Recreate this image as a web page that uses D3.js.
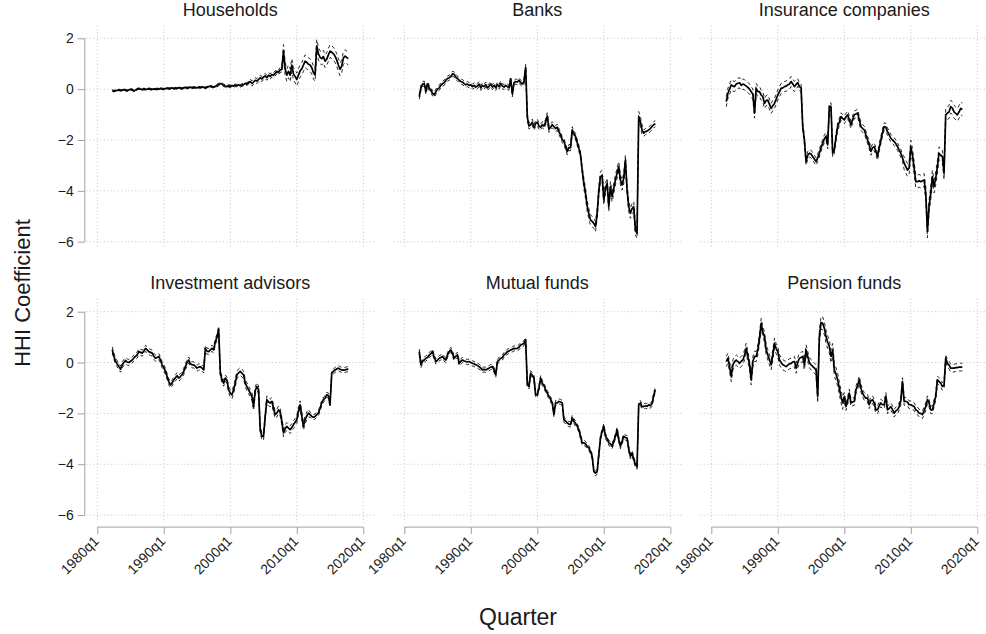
<!DOCTYPE html>
<html>
<head>
<meta charset="utf-8">
<script src="https://cdn.jsdelivr.net/npm/d3@7"></script>
<style>
  body { margin: 0; background: #fff; }
  text { font-family: "Liberation Sans", Arial, sans-serif; fill: #1a1a1a; }
</style>
</head>
<body>
<svg id="chart" width="986" height="634"></svg>
<script>
// quarterly estimates, 1982q2 .. 2017q4
var firstQuarter = 1982.25;
var panelNames = ["Households", "Banks", "Insurance companies", "Investment advisors", "Mutual funds", "Pension funds"];

var households = [
  -0.05, -0.08, -0.06,
  -0.05, -0.03, -0.05, -0.04,  -0.02, -0.04, -0.06, -0.03,  -0.01, -0.02, -0.08, -0.03,
  0.0, 0.02, 0.0, -0.02,  0.01, -0.01, 0.0, 0.02,  0.0, -0.01, 0.01, 0.0,
  0.01, 0.0, 0.03, 0.01,  0.0, 0.02, 0.04, 0.02,  0.03, 0.05, 0.02, 0.04,
  0.03, 0.06, 0.04, 0.02,  0.05, 0.07, 0.04, 0.06,  0.08, 0.05, 0.07, 0.06,
  0.05, 0.08, 0.06, 0.09,  0.07, 0.05, 0.08, 0.1,  0.12, 0.09, 0.08, 0.11,
  0.14, 0.18, 0.22, 0.2,  0.15, 0.12, 0.1, 0.13,  0.11, 0.14, 0.12, 0.15,
  0.14, 0.17, 0.13, 0.16,  0.18, 0.22, 0.2, 0.25,  0.3, 0.22, 0.28, 0.35,
  0.32, 0.38, 0.45, 0.4,  0.48, 0.52, 0.45, 0.55,  0.5, 0.58, 0.55, 0.62,
  0.7, 0.65, 0.75, 0.78,  1.5, 0.8, 0.55, 0.7,  0.55, 0.95, 0.6, 0.5,
  0.38, 0.55, 0.72, 0.8,  0.95, 1.1, 1.05, 0.98,  0.95, 0.85, 0.65, 0.56,
  1.7, 1.4, 1.25, 1.2,  1.28, 1.1, 1.18, 1.35,  1.5, 1.45, 1.4, 1.3,
  1.15, 0.95, 0.78, 0.9,  1.22, 1.3, 1.25, 1.2
];
var banks = [
  -0.3, 0.05, 0.2,
  0.22, -0.1, 0.2, 0.05,  -0.05, -0.17, -0.23, -0.1,  0.0, 0.05, 0.15, 0.22,
  0.25, 0.35, 0.42, 0.45,  0.5, 0.6, 0.58, 0.47,  0.42, 0.35, 0.3, 0.28,
  0.22, 0.17, 0.2, 0.15,  0.17, 0.1, 0.15, 0.08,  0.12, 0.2, 0.05, 0.15,
  0.1, 0.18, 0.05, 0.12,  0.2, 0.08, 0.15, 0.05,  0.18, 0.1, 0.22, 0.12,
  0.08, 0.15, 0.1, 0.05,  0.4, -0.2, 0.25, 0.3,  0.28, 0.35, 0.25, 0.2,
  0.3, 0.85, -1.1, -1.45,  -1.4, -1.3, -1.5, -1.35,  -1.3, -1.45, -1.5, -1.4,
  -1.45, -1.3, -1.05, -1.58,  -1.5, -1.4, -1.47, -1.55,  -1.5, -1.67, -1.8, -1.99,
  -2.05, -2.26, -2.46, -2.3,  -2.3, -1.6, -1.75, -1.86,  -2.1, -2.32, -2.59, -3.18,
  -3.7, -4.1, -4.6, -4.9,  -5.15, -5.2, -5.28, -5.41,  -4.9, -4.0, -3.44, -3.4,
  -4.35, -3.9, -3.7, -4.62,  -3.83, -4.23, -3.9, -3.57,  -3.3, -3.05, -3.57, -3.77,
  -3.5, -2.79, -3.96, -4.62,  -4.88, -4.7, -4.62, -5.54,  -5.67, -1.08, -1.28, -1.6,
  -1.73, -1.67, -1.65, -1.6,  -1.55, -1.47, -1.4, -1.36
];
var insurance = [
  -0.49, -0.16, 0.0,
  0.17, 0.12, 0.1, 0.2,  0.23, 0.25, 0.15, 0.2,  0.17, 0.12, 0.07, 0.0,
  -0.1, -0.2, -0.94, 0.03,  -0.1, -0.1, -0.23, -0.3,  -0.56, -0.45, -0.43, -0.6,
  -0.76, -0.65, -0.56, -0.4,  -0.23, -0.1, 0.03, 0.05,  0.1, 0.12, 0.17, 0.2,
  0.3, 0.2, 0.1, 0.18,  0.26, 0.1, 0.05, -1.47,  -2.0, -2.85, -2.6, -2.52,
  -2.55, -2.65, -2.75, -2.85,  -2.7, -2.52, -2.3, -2.13,  -1.95, -1.86, -2.19, -0.69,
  -0.69, -2.52, -2.39, -1.9,  -1.47, -1.3, -1.08, -1.15,  -1.21, -1.1, -1.01, -1.2,
  -1.4, -1.2, -1.01, -0.98,  -0.94, -1.2, -1.47, -1.55,  -1.6, -1.8, -2.0, -2.2,
  -2.45, -2.3, -2.26, -2.45,  -2.65, -2.3, -2.0, -1.7,  -1.47, -1.5, -1.67, -1.8,
  -1.93, -2.0, -2.06, -2.15,  -2.26, -2.4, -2.52, -2.7,  -2.91, -3.05, -3.18, -3.1,
  -2.26, -2.59, -3.1, -3.64,  -3.64, -3.6, -3.64, -3.6,  -3.57, -4.1, -5.6, -4.6,
  -4.1, -3.44, -3.83, -3.5,  -3.05, -2.52, -2.6, -2.65,  -3.31, -1.01, -0.94, -0.9,
  -0.69, -0.75, -0.89, -0.95,  -1.01, -0.9, -0.76, -0.8
];
var advisors = [
  0.5, 0.25, 0.04,
  -0.05, -0.16, -0.26, -0.09,  0.0, 0.08, 0.02, 0.0,  0.05, 0.1, 0.18, 0.24,
  0.3, 0.43, 0.4, 0.37,  0.45, 0.56, 0.5, 0.43,  0.4, 0.37, 0.25, 0.17,
  0.2, 0.24, 0.1, -0.09,  -0.2, -0.35, -0.55, -0.75,  -0.88, -0.8, -0.68, -0.6,
  -0.52, -0.61, -0.55, -0.48,  -0.35, -0.16, 0.0, 0.1,  -0.05, -0.09, -0.09, -0.15,
  -0.22, -0.18, -0.16, -0.22,  -0.29, 0.56, 0.45, 0.43,  0.5, 0.56, 0.5, 0.82,
  1.0, 1.31, -0.42, -0.68,  -0.81, -0.61, -0.7, -1.07,  -1.2, -1.27, -1.07, -0.8,
  -0.48, -0.4, -0.35, -0.42,  -0.48, -0.81, -0.95, -1.07,  -1.2, -1.33, -1.73, -1.1,
  -0.94, -1.07, -2.64, -2.9,  -2.9, -2.12, -1.46, -1.55,  -1.59, -1.53, -1.8, -2.05,
  -1.99, -1.86, -1.95, -2.31,  -2.77, -2.6, -2.51, -2.58,  -2.64, -2.55, -2.44, -2.35,
  -2.25, -1.9, -1.66, -2.1,  -2.51, -2.25, -2.1, -1.99,  -2.05, -2.12, -2.15, -2.12,
  -2.05, -1.99, -1.8, -1.59,  -1.46, -1.4, -1.27, -1.3,  -1.66, -0.42, -0.35, -0.29,
  -0.25, -0.22, -0.26, -0.29,  -0.3, -0.29, -0.27, -0.26
];
var mutual = [
  0.43, -0.09, 0.05,
  0.1, 0.17, 0.2, 0.3,  0.35, 0.43, 0.2, 0.04,  0.1, 0.17, 0.2, 0.24,
  0.15, 0.1, 0.3, 0.43,  0.5, 0.35, 0.17, 0.25,  0.3, -0.03, 0.05, 0.1,
  0.06, 0.04, 0.02, 0.04,  0.0, -0.03, -0.06, -0.09,  -0.12, -0.16, -0.22, -0.29,
  -0.27, -0.29, -0.25, -0.22,  -0.18, -0.16, -0.3, -0.48,  0.04, 0.1, 0.17, 0.2,
  0.3, 0.35, 0.43, 0.45,  0.5, 0.52, 0.56, 0.55,  0.56, 0.6, 0.69, 0.72,
  0.76, 0.89, -0.88, -0.94,  -0.42, -0.5, -0.61, -1.27,  -1.27, -1.0, -0.61, -0.81,
  -0.9, -1.07, -1.2, -1.33,  -1.45, -1.59, -2.05, -1.59,  -1.59, -1.53, -1.55, -1.59,
  -2.25, -2.3, -2.38, -2.42,  -2.44, -2.18, -2.31, -2.4,  -2.5, -2.64, -2.9, -3.16,
  -3.16, -3.2, -3.3, -3.36,  -3.5, -3.69, -4.27, -4.35,  -4.3, -3.62, -2.97, -2.7,
  -2.51, -2.9, -3.0, -3.16,  -3.2, -3.29, -3.1, -2.9,  -2.64, -3.03, -3.29, -3.1,
  -2.9, -2.95, -2.97, -3.4,  -3.69, -3.56, -3.8, -4.01,  -4.1, -1.66, -1.59, -1.73,
  -1.73, -1.7, -1.72, -1.66,  -1.7, -1.62, -1.3, -1.07
];
var pension = [
  0.04, 0.17, -0.16,
  -0.55, -0.09, 0.04, 0.1,  0.04, -0.03, 0.05, 0.1,  0.3, 0.56, 0.24, -0.09,
  -0.68, 0.04, 0.24, 0.24,  0.5, 0.95, 1.54, 1.2,  1.02, 0.5, 0.3, 0.1,
  -0.09, 0.3, 0.76, 0.55,  0.43, 0.1, 0.0, -0.09,  -0.12, -0.16, -0.1, -0.05,
  -0.03, 0.02, 0.04, -0.22,  0.0, 0.17, 0.2, 0.24,  -0.09, 0.5, 0.24, 0.0,
  -0.09, -0.15, -0.22, -0.29,  -1.33, 1.02, 1.57, 1.54,  1.35, 1.02, 0.8, 0.63,
  0.24, 0.5, -0.29, -0.45,  -0.68, -1.0, -1.33, -1.59,  -1.33, -1.73, -1.5, -1.2,
  -1.59, -1.55, -1.53, -1.07,  -0.9, -0.68, -1.01, -1.2,  -1.33, -1.4, -1.4, -1.66,
  -1.5, -1.46, -1.6, -1.86,  -1.86, -1.7, -1.59, -1.66,  -1.66, -1.33, -1.86, -1.8,
  -1.73, -1.85, -1.99, -1.9,  -1.86, -1.73, -1.5, -0.75,  -1.53, -1.53, -1.55, -1.66,
  -1.66, -1.7, -1.73, -1.86,  -1.9, -1.99, -2.0, -2.05,  -1.9, -1.73, -1.46, -1.59,
  -1.86, -1.86, -1.6, -1.33,  -0.68, -0.75, -0.81, -0.94,  -0.9, 0.17, -0.03, -0.1,
  -0.22, -0.22, -0.22, -0.2,  -0.2, -0.18, -0.18, -0.18
];

// half width of the 95% band, one value per year 1982..2017
var householdsCI = [0.03,0.03,0.03,0.03,0.03,0.03,0.03,0.03,0.03,0.03,0.03,0.03,0.03,0.03,0.03,0.03,
  0.05,0.05,0.05,0.05,0.05, 0.1,0.1,0.1,0.1,0.1, 0.25,0.25,0.25,0.25,0.25,0.25,0.25,0.25,0.25,0.25];
var banksCI = [0.1,0.1,0.1,0.1,0.1,0.1,0.1,0.1,0.1,0.1,0.1,0.1,0.1,0.1,0.1,0.1,
  0.12,0.12,0.12,0.12,0.12,0.12,0.12,0.12,0.12, 0.2,0.2,0.2,0.2,0.2,0.2,0.2,0.2,0.2, 0.12,0.12];
var insuranceCI = [0.2,0.2,0.2,0.2,0.2,0.2,0.2,0.2,0.2,0.2,0.2,
  0.15,0.15,0.15,0.15,0.15,0.15,0.15,0.15,0.15,0.15,0.15,0.15,0.15,0.15,0.15,0.15,
  0.25,0.25,0.25,0.25,0.25,0.25,0.25,0.25,0.25];
var advisorsCI = [0.12,0.12,0.12,0.12,0.12,0.12,0.12,0.12,0.12,0.12,0.12,0.12,0.12,0.12,0.12,0.12,0.12,0.12,
  0.15,0.15,0.15,0.15,0.15,0.15,0.15,0.15,0.15,0.15,0.15,0.15, 0.1,0.1,0.1,0.1,0.1,0.1];
var mutualCI = [0.1,0.1,0.1,0.1,0.1,0.1,0.1,0.1,0.1,0.1,0.1,0.1,0.1,0.1,0.1,0.1,0.1,0.1,
  0.1,0.1,0.1,0.1,0.1,0.1,0.1,0.1,0.1,0.1,0.1,0.1,0.1,0.1,0.1,0.1,0.1,0.1];
var pensionCI = [0.2,0.2,0.2,0.2,0.2,0.2,0.2,0.2,0.2,0.2,0.2,0.2,0.2,0.2,
  0.25,0.25,0.25,0.25, 0.15,0.15,0.15,0.15,0.15,0.15,0.15,0.15,0.15,0.15,0.15,0.15,0.15,0.15,0.15,0.15,0.15,0.15];

var yTicks = [2, 0, -2, -4, -6];
var xTicks = [1980, 1990, 2000, 2010, 2020];
var xTickLabels = ["1980q1", "1990q1", "2000q1", "2010q1", "2020q1"];

var seriesList = [households, banks, insurance, advisors, mutual, pension];
var ciList = [householdsCI, banksCI, insuranceCI, advisorsCI, mutualCI, pensionCI];

var svg = d3.select("#chart");

var panelW = 266, panelH = 203.4;
var colStep = 307, rowStep = 273.4;
var left0 = 97.3, top0 = 38.3;

panelNames.forEach(function(name, i) {
  var col = i % 3, row = Math.floor(i / 3);
  var x0 = left0 + col * colStep;
  var y0 = top0 + row * rowStep;

  var x = d3.scaleLinear().domain([1980, 2020]).range([x0, x0 + panelW]);
  var y = d3.scaleLinear().domain([-6, 2]).range([y0 + panelH, y0]);

  var data = seriesList[i].map(function(v, k) {
    var t = firstQuarter + k / 4;
    var ci = ciList[i][Math.floor(t) - 1982];
    return { t: t, v: v, lo: v - ci, hi: v + ci };
  });

  var g = svg.append("g");

  // grid
  g.selectAll(".hgrid").data(yTicks).enter().append("line")
    .attr("x1", x0 - 11).attr("x2", x0 + panelW + 12)
    .attr("y1", function(d) { return y(d); }).attr("y2", function(d) { return y(d); })
    .attr("stroke", "#c4c4c4").attr("stroke-width", 1).attr("stroke-dasharray", "1,2.5");
  g.selectAll(".vgrid").data(xTicks).enter().append("line")
    .attr("x1", function(d) { return x(d); }).attr("x2", function(d) { return x(d); })
    .attr("y1", y0 - 13).attr("y2", y0 + panelH + 8)
    .attr("stroke", "#c4c4c4").attr("stroke-width", 1).attr("stroke-dasharray", "1,2.5");

  // confidence band lines
  var lineLo = d3.line().x(function(d) { return x(d.t); }).y(function(d) { return y(d.lo); });
  var lineHi = d3.line().x(function(d) { return x(d.t); }).y(function(d) { return y(d.hi); });
  var lineV = d3.line().x(function(d) { return x(d.t); }).y(function(d) { return y(d.v); });

  [lineLo, lineHi].forEach(function(ln) {
    g.append("path").datum(data).attr("d", ln)
      .attr("fill", "none").attr("stroke", "#111").attr("stroke-width", 0.9)
      .attr("stroke-dasharray", "3.5,3");
  });
  g.append("path").datum(data).attr("d", lineV)
    .attr("fill", "none").attr("stroke", "#000").attr("stroke-width", 1.7)
    .attr("stroke-linejoin", "round");

  // panel title
  g.append("text")
    .attr("x", x0 + panelW / 2).attr("y", y0 - 22.6)
    .attr("text-anchor", "middle").style("font-size", "18px")
    .text(name);

  // y axis on the left column
  if (col === 0) {
    var yAxis = d3.axisLeft(y).tickValues(yTicks).tickSize(7).tickPadding(4);
    var ya = g.append("g").attr("transform", "translate(" + (x0 - 12.5) + ",0)").call(yAxis);
    ya.select(".domain").attr("stroke", "#a0a0a0").attr("d", "M0," + y(2) + "V" + y(-6));
    ya.selectAll(".tick line").attr("stroke", "#a0a0a0");
    ya.selectAll(".tick text").style("font-size", "14px").attr("fill", "#1a1a1a")
      .style("font-family", "'Liberation Sans', Arial, sans-serif");
  }

  // x axis on the bottom row
  if (row === 1) {
    var xAxis = d3.axisBottom(x).tickValues(xTicks)
      .tickFormat(function(d, k) { return xTickLabels[k]; }).tickSize(7);
    var xa = g.append("g").attr("transform", "translate(0," + (y0 + panelH + 12) + ")").call(xAxis);
    xa.select(".domain").attr("stroke", "#a0a0a0").attr("d", "M" + x0 + ",0H" + (x0 + panelW));
    xa.selectAll(".tick line").attr("stroke", "#a0a0a0");
    xa.selectAll(".tick text").style("font-size", "14px").attr("fill", "#1a1a1a")
      .style("font-family", "'Liberation Sans', Arial, sans-serif")
      .attr("text-anchor", "end").attr("x", 0).attr("y", 0).attr("dy", 0)
      .attr("transform", "translate(2,15) rotate(-45)");
  }
});

// axis titles
svg.append("text")
  .attr("transform", "translate(30,293) rotate(-90)")
  .attr("text-anchor", "middle").style("font-size", "22px")
  .text("HHI Coefficient");

svg.append("text")
  .attr("x", 518).attr("y", 625)
  .attr("text-anchor", "middle").style("font-size", "23px")
  .text("Quarter");
</script>
</body>
</html>
